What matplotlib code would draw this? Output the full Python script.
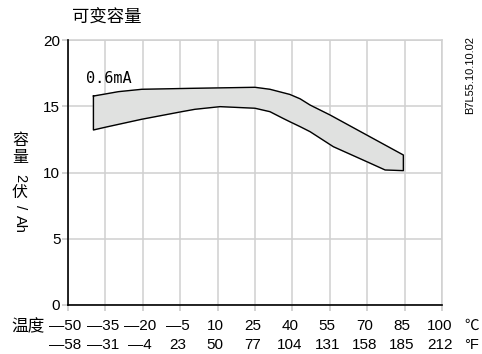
import matplotlib
matplotlib.use('Agg')
import matplotlib.pyplot as plt

plt.rcParams['font.family'] = ['Liberation Sans', 'Noto Sans CJK SC', 'DejaVu Sans']

# upper / lower edge of the band (temperature degC, capacity Ah)
upper_t = [-39.8, -35.2, -29.8, -20.4, -1.1, 25.0, 31.0, 39.0, 43.1, 47.1, 55.1, 69.8, 84.5]
upper_v = [15.77, 15.92, 16.10, 16.28, 16.35, 16.43, 16.28, 15.89, 15.56, 15.09, 14.34, 12.83, 11.32]
lower_t = [-39.8, -35.2, -20.4, -4.4, 0.9, 11.0, 25.0, 31.0, 36.2, 39.0, 43.1, 47.1, 56.4, 69.8, 77.2, 84.5]
lower_v = [13.21, 13.41, 14.02, 14.59, 14.77, 14.97, 14.85, 14.59, 14.09, 13.83, 13.46, 13.08, 11.95, 10.82, 10.19, 10.14]

c_ticks = [-50, -35, -20, -5, 10, 25, 40, 55, 70, 85, 100]
c_labels = ['—50', '—35', '—20', '—5', '10', '25', '40', '55', '70', '85', '100']
f_labels = ['—58', '—31', '—4', '23', '50', '77', '104', '131', '158', '185', '212']
y_ticks = [0, 5, 10, 15, 20]

W, H = 482, 354
fig = plt.figure(figsize=(W / 100, H / 100), dpi=100)
ax = fig.add_axes([68 / W, 1 - 305 / H, 374 / W, 265 / H])

# band polygon: upper edge forward, lower edge back
poly_t = upper_t + lower_t[::-1] + [upper_t[0]]
poly_v = upper_v + lower_v[::-1] + [upper_v[0]]
ax.fill(poly_t, poly_v, color='#e0e1e0', zorder=3)
ax.plot(poly_t, poly_v, color='black', lw=1.0, zorder=4)

ax.set_xlim(-50, 100)
ax.set_ylim(0, 20)
ax.set_xticks(c_ticks)
ax.set_xticklabels([])
ax.set_yticks(y_ticks)
ax.set_yticklabels([str(v) for v in y_ticks], fontsize=11)
ax.grid(True, color='#d0d0d0', lw=1.1, zorder=0)
ax.tick_params(axis='both', color='#c8c8c8', length=4, width=1.1, pad=1.5)
for s in ['top', 'right']:
    ax.spines[s].set_color('#d0d0d0')
    ax.spines[s].set_linewidth(1.1)
for s in ['left', 'bottom']:
    ax.spines[s].set_color('black')
    ax.spines[s].set_linewidth(1.2)
    ax.spines[s].set_zorder(5)

tr = ax.get_xaxis_transform()
for t, cl, fl in zip(c_ticks, c_labels, f_labels):
    ax.text(t - 1, (305 - 326) / 265, cl, transform=tr, ha='center', va='center', fontsize=11)
    ax.text(t - 1, (305 - 345) / 265, fl, transform=tr, ha='center', va='center', fontsize=11)

def ft(x, y, s, **kw):
    fig.text(x / W, 1 - y / H, s, **kw)

ft(107, 18, '可变容量', ha='center', va='center', fontsize=12.5, fontweight='medium')
ft(28, 326, '温度', ha='center', va='center', fontsize=12)
ft(472, 326, '℃', ha='center', va='center', fontsize=10.5)
ft(472, 345, '°F', ha='center', va='center', fontsize=10.5)
ft(470, 75, 'B7L55.10.10.02', ha='center', va='center', fontsize=8, rotation=90)
ax.text(-42.6, 17.1, '0.6mA', ha='left', va='center', fontsize=11, family='DejaVu Sans Mono')

# vertical y label, CJK upright, latin turned
ft(20, 140, '容', ha='center', va='center', fontsize=11.5)
ft(20, 157, '量', ha='center', va='center', fontsize=11.5)
ft(20, 178, '2', ha='center', va='center', fontsize=10.5, rotation=-90)
ft(20, 192, '伏', ha='center', va='center', fontsize=11.5)
ft(20, 207, '/', ha='center', va='center', fontsize=11, rotation=-90)
ft(20, 224, 'Ah', ha='center', va='center', fontsize=10.5, rotation=-90)

fig.savefig('out.png', dpi=100)
